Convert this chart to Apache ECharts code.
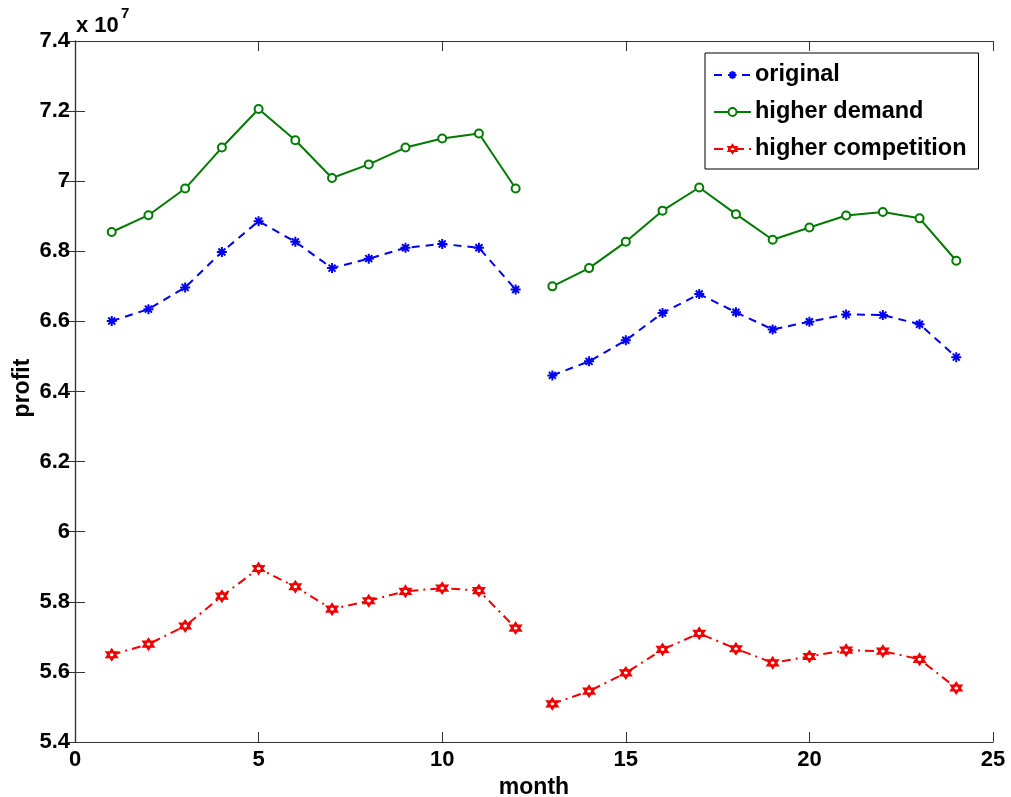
<!DOCTYPE html>
<html>
<head>
<meta charset="utf-8">
<title>profit by month</title>
<script src="https://cdn.jsdelivr.net/npm/echarts@6/dist/echarts.min.js"></script>
<style>
  html, body { margin: 0; padding: 0; background: #fff; }
  #chart { width: 1011px; height: 797px; }
</style>
</head>
<body>
<div id="chart"></div>
<script>
// Monthly profit under three scenarios (two years, 24 months)
const months = [1, 2, 3, 4, 5, 6, 7, 8, 9, 10, 11, 12,
                13, 14, 15, 16, 17, 18, 19, 20, 21, 22, 23, 24];

const original = [
  6.601e7, 6.635e7, 6.697e7, 6.798e7, 6.886e7, 6.827e7, 6.752e7, 6.779e7, 6.810e7, 6.821e7, 6.810e7, 6.691e7,
  6.446e7, 6.486e7, 6.546e7, 6.624e7, 6.678e7, 6.626e7, 6.577e7, 6.599e7, 6.620e7, 6.618e7, 6.592e7, 6.498e7
];
const higherDemand = [
  6.855e7, 6.903e7, 6.979e7, 7.096e7, 7.206e7, 7.117e7, 7.009e7, 7.048e7, 7.096e7, 7.122e7, 7.136e7, 6.979e7,
  6.700e7, 6.752e7, 6.827e7, 6.916e7, 6.982e7, 6.906e7, 6.833e7, 6.868e7, 6.902e7, 6.912e7, 6.894e7, 6.773e7
];
const higherCompetition = [
  5.649e7, 5.679e7, 5.731e7, 5.816e7, 5.895e7, 5.843e7, 5.779e7, 5.803e7, 5.830e7, 5.839e7, 5.832e7, 5.725e7,
  5.509e7, 5.545e7, 5.597e7, 5.664e7, 5.710e7, 5.666e7, 5.626e7, 5.644e7, 5.662e7, 5.659e7, 5.636e7, 5.554e7
];

const seriesNames = ['original', 'higher demand', 'higher competition'];
const xTicks = { min: 0, max: 25, interval: 5 };
const yTicks = { min: 5.4e7, max: 7.4e7, interval: 0.2e7 };
const yScaleExponent = 7;

const FONT = '"Liberation Sans", Arial, Helvetica, sans-serif';

// Markers: asterisk, hollow circle, hexagram
const asteriskPath = 'path://M5,0L5,10M0,5L10,5M1.5,1.5L8.5,8.5M1.5,8.5L8.5,1.5';
const hexagramPath = 'path://M5,0L9.33,7.5L0.67,7.5Z M5,10L0.67,2.5L9.33,2.5Z';

const styles = {
  'original': {
    symbol: asteriskPath, symbolSize: 10,
    lineStyle: { color: '#0000f0', width: 2, type: [8, 6] },
    itemStyle: { color: '#0000f0', borderColor: '#0000f0', borderWidth: 2 }
  },
  'higher demand': {
    symbol: 'emptyCircle', symbolSize: 8,
    lineStyle: { color: '#007a00', width: 2, type: 'solid' },
    itemStyle: { color: '#007a00', borderColor: '#007a00', borderWidth: 1.5 }
  },
  'higher competition': {
    symbol: hexagramPath, symbolSize: 10,
    lineStyle: { color: '#f00000', width: 2, type: [9, 5, 2, 5] },
    itemStyle: { color: '#ffffff', borderColor: '#f00000', borderWidth: 2.2 }
  }
};

// Each year is drawn as its own segment (no line between month 12 and 13)
function pairs(values, from, to) {
  const out = [];
  for (let i = from; i < to; i++) out.push([months[i], values[i]]);
  return out;
}

const valueSets = [original, higherDemand, higherCompetition];
const series = [];
seriesNames.forEach(function (name, k) {
  [[0, 12], [12, 24]].forEach(function (range) {
    const s = styles[name];
    series.push({
      name: name,
      type: 'line',
      data: pairs(valueSets[k], range[0], range[1]),
      symbol: s.symbol,
      symbolSize: s.symbolSize,
      showAllSymbol: true,
      lineStyle: s.lineStyle,
      itemStyle: s.itemStyle,
      color: s.lineStyle.color,
      animation: false,
      emphasis: { disabled: true }
    });
  });
});

const tickLabelStyle = { color: '#000', fontFamily: FONT, fontWeight: 'bold', fontSize: 22 };
const axisLineStyle = { lineStyle: { color: '#333', width: 1.2 } };
const tickStyle = { inside: true, length: 10, lineStyle: { color: '#333', width: 1 } };

const chart = echarts.init(document.getElementById('chart'), null, { renderer: 'canvas' });
chart.setOption({
  backgroundColor: '#fff',
  animation: false,
  grid: { left: 75, top: 41, width: 918, height: 701, containLabel: false, outerBoundsMode: 'none' },
  legend: {
    data: seriesNames,
    orient: 'vertical',
    left: 705,
    top: 53,
    padding: [9, 12, 7, 8],
    itemGap: 11,
    itemWidth: 37,
    itemHeight: 10,
    backgroundColor: '#fff',
    borderColor: '#000',
    borderWidth: 1,
    borderRadius: 0,
    selectedMode: false,
    textStyle: { color: '#000', fontFamily: FONT, fontWeight: 'bold', fontSize: 23.5, lineHeight: 26, padding: [0, 0, 0, -1] }
  },
  xAxis: [{
    type: 'value',
    min: xTicks.min, max: xTicks.max, interval: xTicks.interval,
    name: 'month',
    nameLocation: 'middle',
    nameGap: 33,
    nameTextStyle: { color: '#000', fontFamily: FONT, fontWeight: 'bold', fontSize: 23 },
    axisLine: axisLineStyle,
    axisTick: tickStyle,
    axisLabel: Object.assign({ margin: 7 }, tickLabelStyle),
    splitLine: { show: false }
  }, {
    type: 'value',
    position: 'top',
    min: xTicks.min, max: xTicks.max, interval: xTicks.interval,
    axisLine: axisLineStyle,
    axisTick: tickStyle,
    axisLabel: { show: false },
    splitLine: { show: false }
  }],
  yAxis: [{
    type: 'value',
    min: yTicks.min, max: yTicks.max, interval: yTicks.interval,
    axisLine: axisLineStyle,
    axisTick: tickStyle,
    axisLabel: Object.assign({
      margin: 5,
      formatter: function (v) { return String(parseFloat((v / Math.pow(10, yScaleExponent)).toFixed(1))); }
    }, tickLabelStyle),
    splitLine: { show: false }
  }, {
    type: 'value',
    position: 'right',
    min: yTicks.min, max: yTicks.max, interval: yTicks.interval,
    axisLine: axisLineStyle,
    axisTick: tickStyle,
    axisLabel: { show: false },
    splitLine: { show: false }
  }],
  graphic: [{
    // y-axis title
    type: 'text', x: 23, y: 388, rotation: Math.PI / 2,
    style: { text: 'profit', fill: '#000', font: 'bold 23px ' + FONT, align: 'center', verticalAlign: 'middle' }
  }, {
    // scale factor of the y axis
    type: 'text', left: 76, top: 15,
    style: { text: 'x 10', fill: '#000', font: 'bold 22px ' + FONT }
  }, {
    type: 'text', left: 121, top: 6,
    style: { text: String(yScaleExponent), fill: '#000', font: 'bold 15px ' + FONT }
  }],
  series: series
});
</script>
</body>
</html>
